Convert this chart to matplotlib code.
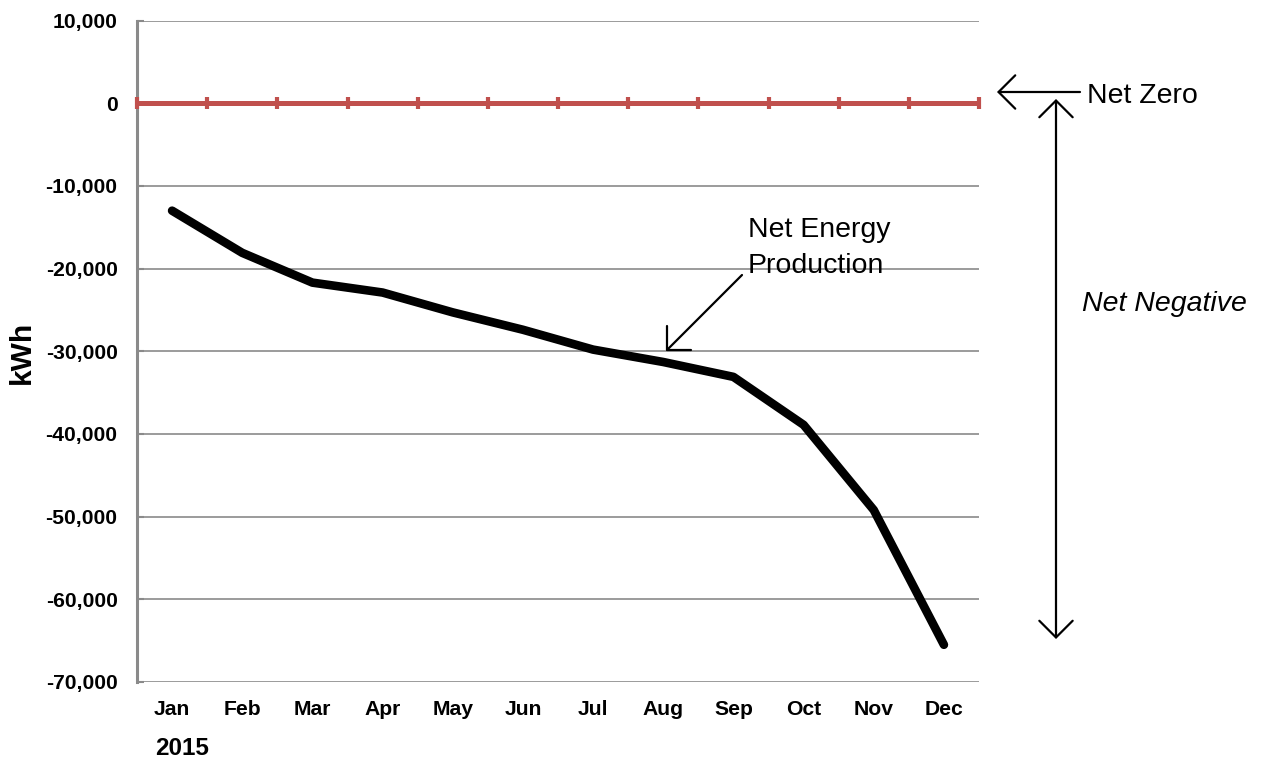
import numpy as np
import matplotlib
matplotlib.use("Agg")
import matplotlib.pyplot as plt
from matplotlib.ticker import FuncFormatter

plt.rcParams['font.family'] = ['Liberation Sans', 'DejaVu Sans']

# Monthly cumulative net energy (kWh), 2015
months = ['Jan', 'Feb', 'Mar', 'Apr', 'May', 'Jun',
          'Jul', 'Aug', 'Sep', 'Oct', 'Nov', 'Dec']
net_kwh = [-13000, -18100, -21700, -22900, -25300, -27400,
           -29800, -31300, -33100, -38900, -49200, -65500]
y_ticks = [10000, 0, -10000, -20000, -30000, -40000, -50000, -60000, -70000]
year_label = '2015'

W, H = 1262, 761
fig = plt.figure(figsize=(W / 100, H / 100), dpi=100)
ax = fig.add_axes([137 / W, 1 - 682 / H, (979 - 137) / W, (682 - 20.5) / H])

x = np.arange(len(months))
grid_gray = '#8a8a8a'
red = '#C0504D'

ax.set_xlim(-0.5, len(months) - 0.5)
ax.set_ylim(min(y_ticks), max(y_ticks))
ax.set_yticks(y_ticks)
ax.yaxis.set_major_formatter(FuncFormatter(lambda v, p: f'{int(v):,}'))
ax.set_xticks(x)
ax.set_xticklabels(months)

for lab in ax.get_xticklabels() + ax.get_yticklabels():
    lab.set_fontweight('bold')
    lab.set_fontsize(15.2)

ax.tick_params(axis='x', length=0, pad=13)
ax.tick_params(axis='y', direction='in', length=5, width=1.5, color=grid_gray, pad=14)

for s in ['top', 'right', 'bottom']:
    ax.spines[s].set_visible(False)
ax.spines['left'].set_color(grid_gray)
ax.spines['left'].set_linewidth(2.2)

ax.yaxis.grid(True, color=grid_gray, linewidth=1.2)
ax.set_axisbelow(True)

# Net-zero reference line with category boundary ticks
ax.axhline(0, color=red, linewidth=3.6, zorder=3)
bounds = np.arange(len(months) + 1) - 0.5
ax.plot(bounds, np.zeros_like(bounds), ls='none', marker='|', ms=9, mew=3,
        color=red, clip_on=False, zorder=3)

# Net energy production line
ax.plot(x, net_kwh, color='black', linewidth=6.2, solid_capstyle='round',
        solid_joinstyle='round', zorder=4)

arrow_kw = dict(arrowstyle='->,head_length=0.6,head_width=0.6', color='black',
                lw=1.6, shrinkA=0, shrinkB=0, mutation_scale=20)
arrow2_kw = dict(arrow_kw, arrowstyle='<->,head_length=0.6,head_width=0.6')

def fp(px, py):
    return (px, H - py)

# Net Zero marker
ax.annotate('', xy=fp(997, 92), xytext=fp(1080, 92), xycoords='figure pixels',
            textcoords='figure pixels', arrowprops=arrow_kw, annotation_clip=False)
fig.text(1087 / W, 1 - 103 / H, 'Net Zero', fontsize=20.5, va='baseline', ha='left')

# Net Negative span
ax.annotate('', xy=fp(1056, 99), xytext=fp(1056, 639), xycoords='figure pixels',
            textcoords='figure pixels', arrowprops=arrow2_kw, annotation_clip=False)
fig.text(1082 / W, 1 - 311 / H, 'Net Negative', fontsize=20.5, style='italic',
         va='baseline', ha='left')

# Net Energy Production callout
ax.annotate('', xy=fp(666, 351), xytext=fp(742, 275), xycoords='figure pixels',
            textcoords='figure pixels', arrowprops=arrow_kw, annotation_clip=False)
fig.text(748 / W, 1 - 237 / H, 'Net Energy', fontsize=20.5, va='baseline', ha='left')
fig.text(748 / W, 1 - 273 / H, 'Production', fontsize=20.5, va='baseline', ha='left')

# Axis titles
fig.text(22 / W, 1 - 352 / H, 'kWh', fontsize=21.5, fontweight='bold',
         rotation=90, ha='center', va='center')
fig.text(155 / W, 1 - 755 / H, year_label, fontsize=17.5, fontweight='bold',
         ha='left', va='baseline')

fig.savefig('out.png', dpi=100, facecolor='white')
